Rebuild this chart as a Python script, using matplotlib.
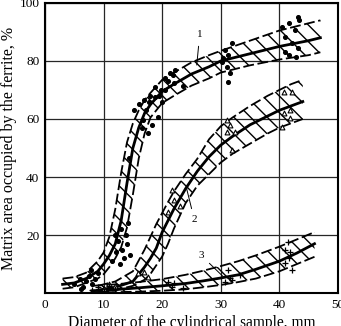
import numpy as np
import matplotlib
matplotlib.use('Agg')
import matplotlib.pyplot as plt

# Kurve 1 (Punkte)
x1 = [3, 5, 7, 9, 10, 11, 12, 13, 14, 15, 16, 17, 18, 20, 22, 25, 28, 30, 35, 40, 45, 47]
c1 = [3, 3.5, 5, 7.5, 10, 13, 17, 25, 38, 50, 57, 62, 65, 69.5, 72, 75.5, 78, 80, 82.5, 85, 87, 88]
o1 = [5, 5.5, 7, 11, 14, 19.5, 29, 41.5, 52, 58.5, 63, 66.5, 69, 73.5, 76, 79.5, 82, 83.5, 87, 90.5, 93, 94]
u1 = [1.5, 2, 3.5, 5, 6.5, 9, 12, 15.8, 22.6, 34, 46.4, 55, 60.5, 65.5, 68, 71.5, 74, 76, 78.5, 80.5, 82, 83]

# Kurve 2 (Dreiecke)
x2 = [9, 12, 15, 17, 18, 19, 20, 21, 22, 24, 26, 28, 30, 32, 35, 38, 40, 42, 44]
c2 = [1, 2, 4, 9, 12, 15.5, 21, 25, 29, 36, 42, 47, 51, 54, 58, 61, 63, 64.5, 66]
o2 = [2.5, 4, 7.5, 15, 19.4, 23.8, 27.6, 31.4, 35, 41, 46.3, 53, 57.5, 60.5, 64.5, 68, 70, 72, 73.5]
u2 = [0.3, 1, 2.5, 4.6, 6.6, 9.6, 12.6, 17, 22.2, 31, 37, 41, 45, 48, 51.5, 55, 57, 58.5, 60]

# Kurve 3 (Kreuze)
x3 = [8, 12, 16, 20, 24, 27, 30, 33, 36, 40, 43, 46]
c3 = [0.8, 1.2, 1.8, 2.5, 3.3, 4.2, 5.2, 6.3, 8.2, 11, 13.8, 17]
o3 = [2.5, 3, 3.8, 4.8, 6.3, 7.7, 9.3, 11, 13, 16, 18.5, 21]
u3 = [0.2, 0.3, 0.5, 0.8, 1.3, 2, 2.8, 3.8, 5, 7.5, 10, 12.5]

# Messpunkte
p1x = [5, 6, 6.5, 7, 7.5, 8, 8.5, 9, 7.8, 6.2,
       11.5, 12, 12.2, 12.5, 12.8, 13, 13.2, 13.5, 13.8, 14, 14.2, 14.5,
       14.3, 15.2, 16, 16.5, 16.8, 16.9, 17.2, 17.5, 17.8, 18, 18.2, 18.7, 18.8, 19.3, 19.5,
       19.8, 20, 20.5, 20.5, 21, 21.3, 21.8, 22.1, 22.2, 23.6,
       30.2, 30.4, 30.7, 31, 31.3, 31.3, 31.6, 31.9,
       40.5, 40.9, 41, 41.7, 41.7, 42.2, 42.6, 42.8, 43.1, 43.4, 43.1]
p1y = [3, 5, 2, 4, 6, 3, 5, 7, 8, 1.5,
       11, 20, 14, 18, 10, 22, 15, 12, 20, 17, 24, 13,
       46.5, 63, 65, 57, 59.6, 66.5, 63, 55, 66, 68, 58, 67.6, 71, 60.7, 68,
       70, 66, 70, 74, 73, 76, 75, 72.3, 77, 71.4,
       79.6, 81, 83.8, 77.9, 82, 72.8, 75.9, 86.2,
       91.7, 83, 88.3, 93, 82, 86.2, 90.7, 81.4, 84.5, 94.1, 95.2]
p2x = [10, 11, 12, 15.8, 16.9, 17.6, 21.6, 22.1, 21, 23,
       31, 31.6, 31, 32.4, 31.9,
       40.8, 42.2, 41.9, 40.8, 41.9, 40.5]
p2y = [1.5, 3, 2.5, 6.9, 7.2, 5.5, 35.5, 32, 28, 30,
       59.7, 57.9, 55.5, 55.5, 49.3,
       69.4, 69.4, 63.1, 62, 60.3, 57.2]
p3x = [8, 9, 10, 11, 12, 21, 22.1, 21.6, 23.6,
       30.7, 31.3, 31.6, 33.3, 32,
       41.4, 41, 41.7, 40.9, 42.2, 41.9]
p3y = [1, 2, 0.8, 2.5, 1.5, 3.8, 3.4, 2.1, 1.7,
       3.8, 7.9, 5.2, 6.2, 4.5,
       17.7, 14.8, 12, 10.3, 7.9, 14]

xticks = [0, 10, 20, 30, 40, 50]
yticks = [20, 40, 60, 80, 100]

plt.rcParams['font.family'] = ['Liberation Serif', 'DejaVu Serif']
plt.rcParams['hatch.linewidth'] = 1.0

fig = plt.figure(figsize=(3.41, 3.26), dpi=100)
ax = fig.add_axes([0.132, 0.101, 0.859, 0.89])

for xs, c, o, u in [(x1, c1, o1, u1), (x2, c2, o2, u2), (x3, c3, o3, u3)]:
    xs, c, o, u = map(np.array, (xs, c, o, u))
    ax.fill_between(xs, o, c, facecolor='none', edgecolor='black', hatch='\\\\', linewidth=0)
    ax.fill_between(xs, c, u, facecolor='none', edgecolor='black', hatch='\\\\', linewidth=0)
    ax.plot(xs, o, color='black', lw=1.3, ls=(0, (6, 2)))
    ax.plot(xs, u, color='black', lw=1.3, ls=(0, (6, 2)))
    ax.plot(xs, c, color='black', lw=2.0)

ax.scatter(p1x, p1y, s=7, color='black', zorder=3)
ax.scatter(p2x, p2y, s=12, marker='^', facecolor='white', edgecolor='black', lw=0.8, zorder=3)
ax.scatter(p3x, p3y, s=14, marker='+', color='black', lw=0.9, zorder=3)

ax.annotate('1', xy=(25.9, 78.6), xytext=(26.4, 89), fontsize=8, ha='center', va='center',
            arrowprops=dict(arrowstyle='-', lw=0.7, shrinkA=3, shrinkB=0))
ax.annotate('2', xy=(24.1, 36.6), xytext=(25.5, 25.2), fontsize=8, ha='center', va='center',
            arrowprops=dict(arrowstyle='-', lw=0.7, shrinkA=3, shrinkB=0))
ax.annotate('3', xy=(30.5, 5.5), xytext=(26.6, 13.1), fontsize=8, ha='center', va='center',
            arrowprops=dict(arrowstyle='-', lw=0.7, shrinkA=3, shrinkB=0))

ax.set_xlim(0, 50)
ax.set_ylim(0, 100)
ax.set_xticks(xticks)
ax.set_yticks(yticks)
ax.tick_params(length=0, labelsize=9.5, pad=4)
ax.grid(True, color='0.15', lw=0.9)
ax.set_axisbelow(True)
for s in ax.spines.values():
    s.set_linewidth(1.5)

ax.set_xlabel('Diameter of the cylindrical sample, mm', fontsize=11.2, labelpad=3)
ax.set_ylabel('Matrix area occupied by the ferrite, %', fontsize=11.5, labelpad=2)

fig.savefig('out.png', dpi=100)
